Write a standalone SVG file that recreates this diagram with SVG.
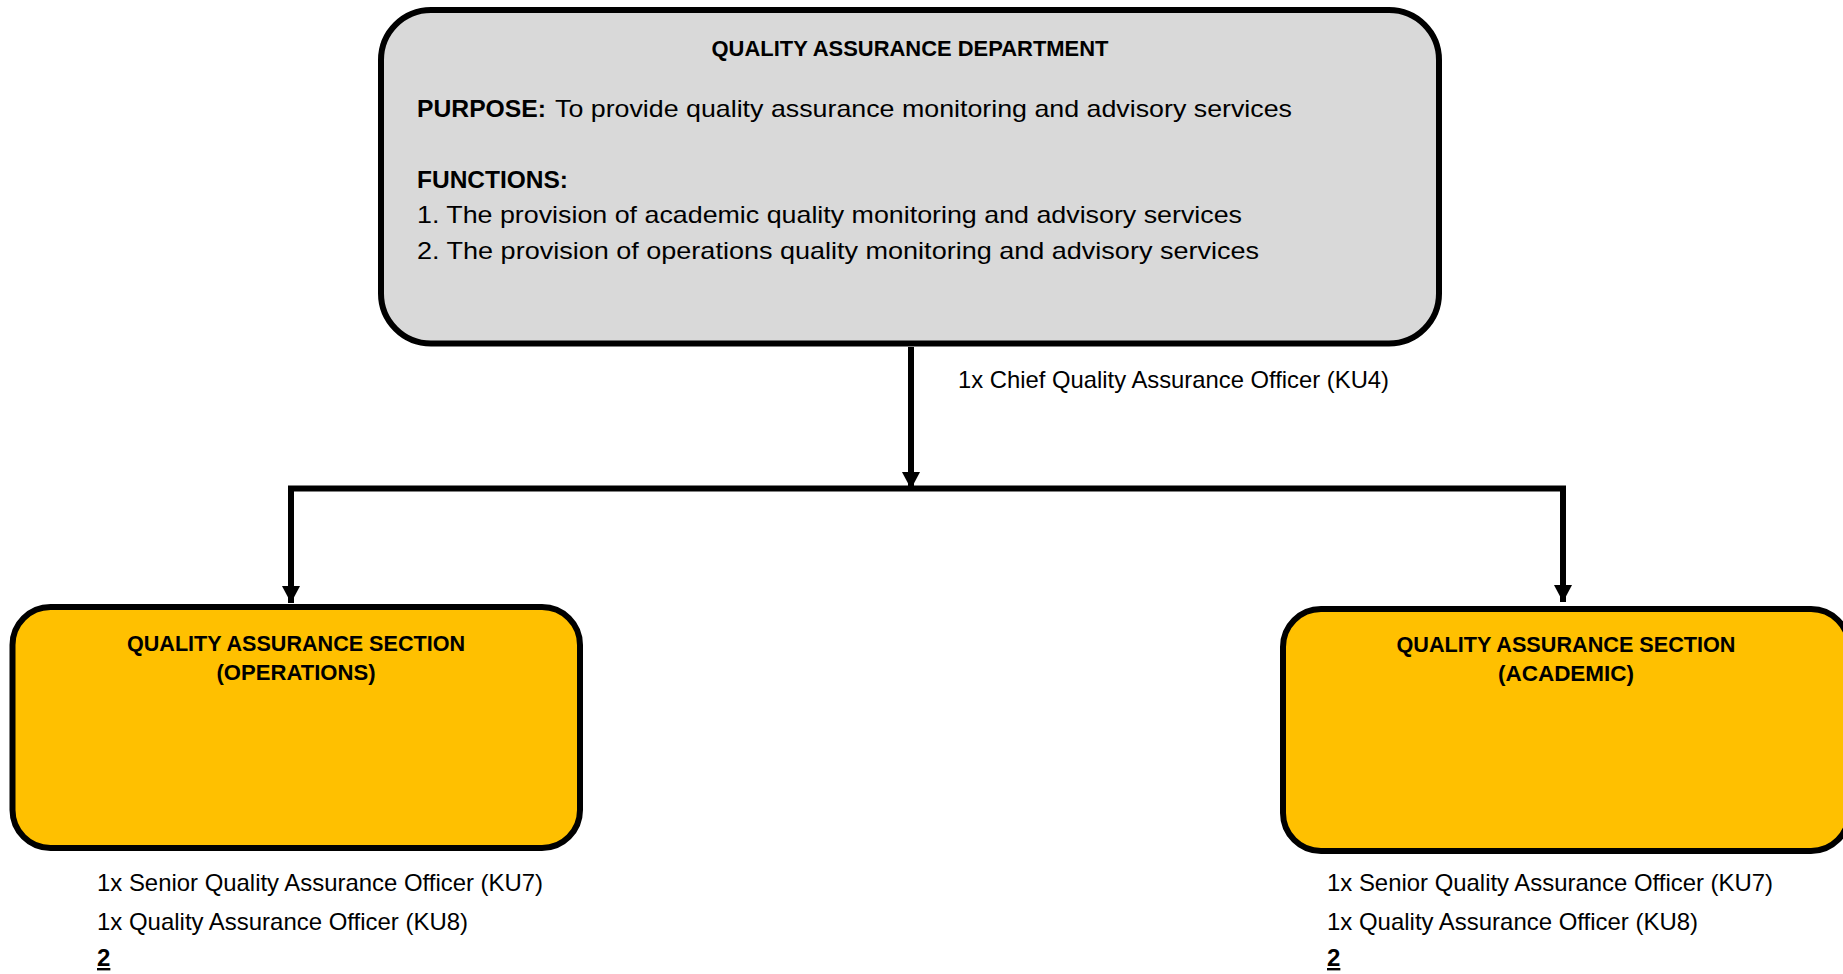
<svg xmlns="http://www.w3.org/2000/svg" width="1843" height="974" viewBox="0 0 1843 974">
<defs>
<style>
.box{stroke:#000;stroke-width:6}
.dept{fill:#D9D9D9}
.sec{fill:#FFC000}
.t{font-family:"Liberation Sans",Arial,sans-serif;font-size:24px;fill:#000}
.b{font-family:"Liberation Sans",Arial,sans-serif;font-size:22px;font-weight:bold;fill:#000}
.bb{font-family:"Liberation Sans",Arial,sans-serif;font-size:24px;font-weight:bold;fill:#000}
.conn{fill:none;stroke:#000;stroke-width:6;stroke-linejoin:miter}
</style>
<marker id="arr" markerUnits="userSpaceOnUse" viewBox="0 0 17 18" refX="17" refY="9" markerWidth="17" markerHeight="18" orient="auto">
<path d="M0,0 L17,9 L0,18 z" fill="#000"/>
</marker>
</defs>
<rect width="1843" height="974" fill="#fff"/>
<g id="connectors">
<path class="conn" d="M911,347 V489" marker-end="url(#arr)"/>
<path class="conn" d="M911,488.5 H291 V603" marker-end="url(#arr)"/>
<path class="conn" d="M911,488.5 H1563 V602" marker-end="url(#arr)"/>
</g>
<g id="dept">
<rect class="box dept" x="381" y="10" width="1058" height="333.5" rx="50" ry="50"/>
<text class="b" x="910" y="56" text-anchor="middle" textLength="397" lengthAdjust="spacingAndGlyphs">QUALITY ASSURANCE DEPARTMENT</text>
<text class="bb" x="417" y="117" textLength="129" lengthAdjust="spacingAndGlyphs">PURPOSE:</text>
<text class="t" x="555" y="117" textLength="737" lengthAdjust="spacingAndGlyphs">To provide quality assurance monitoring and advisory services</text>
<text class="bb" x="417" y="188" textLength="151" lengthAdjust="spacingAndGlyphs">FUNCTIONS:</text>
<text class="t" x="417" y="223" textLength="825" lengthAdjust="spacingAndGlyphs">1. The provision of academic quality monitoring and advisory services</text>
<text class="t" x="417" y="259" textLength="842" lengthAdjust="spacingAndGlyphs">2. The provision of operations quality monitoring and advisory services</text>
</g>
<g id="chief-label">
<text class="t" x="958" y="388" textLength="431" lengthAdjust="spacingAndGlyphs">1x Chief Quality Assurance Officer (KU4)</text>
</g>
<g id="sec-operations">
<rect class="box sec" x="12.5" y="607" width="567.5" height="241" rx="38" ry="38"/>
<text class="b" x="296" y="651" text-anchor="middle" textLength="338" lengthAdjust="spacingAndGlyphs">QUALITY ASSURANCE SECTION</text>
<text class="b" x="296" y="680" text-anchor="middle" textLength="159" lengthAdjust="spacingAndGlyphs">(OPERATIONS)</text>
<text class="t" x="97" y="891" textLength="446" lengthAdjust="spacingAndGlyphs">1x Senior Quality Assurance Officer (KU7)</text>
<text class="t" x="97" y="930" textLength="371" lengthAdjust="spacingAndGlyphs">1x Quality Assurance Officer (KU8)</text>
<text class="bb" x="97" y="966" text-decoration="underline">2</text>
</g>
<g id="sec-academic">
<rect class="box sec" x="1283" y="609" width="566" height="242" rx="38" ry="38"/>
<text class="b" x="1566" y="652" text-anchor="middle" textLength="339" lengthAdjust="spacingAndGlyphs">QUALITY ASSURANCE SECTION</text>
<text class="b" x="1566" y="681" text-anchor="middle" textLength="136" lengthAdjust="spacingAndGlyphs">(ACADEMIC)</text>
<text class="t" x="1327" y="891" textLength="446" lengthAdjust="spacingAndGlyphs">1x Senior Quality Assurance Officer (KU7)</text>
<text class="t" x="1327" y="930" textLength="371" lengthAdjust="spacingAndGlyphs">1x Quality Assurance Officer (KU8)</text>
<text class="bb" x="1327" y="966" text-decoration="underline">2</text>
</g>
</svg>
